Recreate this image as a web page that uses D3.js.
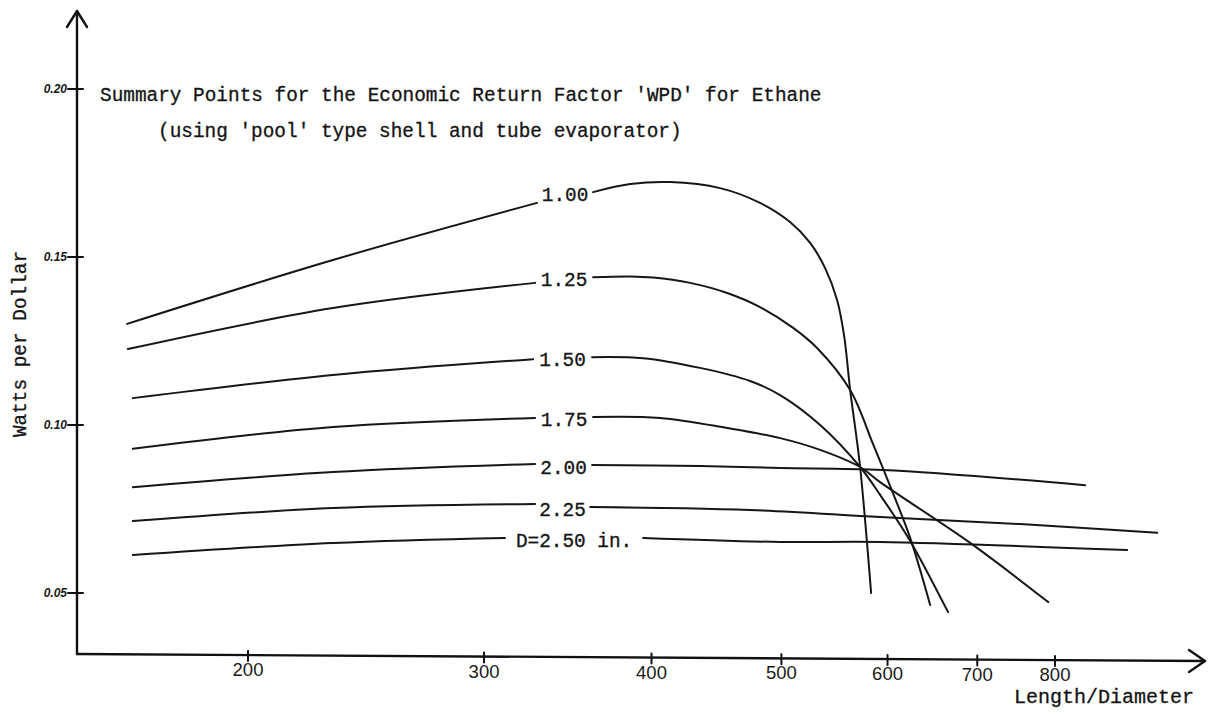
<!DOCTYPE html>
<html>
<head>
<meta charset="utf-8">
<script src="https://cdn.jsdelivr.net/npm/d3@7"></script>
<style>
  body { margin: 0; background: #fff; }
  svg { display: block; }
  .mono { font-family: "Liberation Mono", "DejaVu Sans Mono", monospace; fill: #141414; }
  .hand { font-family: "Liberation Sans", "DejaVu Sans", sans-serif; fill: #1a1a1a; }
</style>
</head>
<body>
<script>
// tick values
const xTicks = [200, 300, 400, 500, 600, 700, 800];
const yTicks = [0.05, 0.10, 0.15, 0.20];
const yTickLabels = ["0.05", "0.10", "0.15", "0.20"];

// one curve per tube diameter, broken where the label sits
const curveLabels = ["1.00", "1.25", "1.50", "1.75", "2.00", "2.25", "D=2.50 in."];

// [L/D, WPD], left of the label
const leftParts = [
    [[162.5, 0.1301], [231.4, 0.1491], [328.6, 0.1661]],
    [[162.7, 0.1226], [231.4, 0.1348], [327.5, 0.1423]],
    [[164.1, 0.1080], [231.4, 0.1149], [326.4, 0.1196]],
    [[164.1, 0.0929], [231.4, 0.0994], [327.5, 0.1021]],
    [[164.1, 0.0815], [231.4, 0.0860], [327.5, 0.0884]],
    [[164.1, 0.0714], [231.4, 0.0753], [327.5, 0.0765]],
    [[164.1, 0.0613], [231.4, 0.0649], [311, 0.0664]]
];

// right of the label
const rightParts = [
    [[361.8, 0.1693], [385.6, 0.1717], [413, 0.1723], [450, 0.1705], [482, 0.1661], [507.5, 0.1604],
     [525.3, 0.1542], [539, 0.1467], [550.2, 0.1372], [556.9, 0.1265], [562.7, 0.1104], [572.4, 0.0875],
     [583.3, 0.0500]],
    [[361.8, 0.1440], [385.6, 0.1442], [401.1, 0.1439], [427.4, 0.1423], [455.5, 0.1393], [482, 0.1351],
     [510.2, 0.1289], [531.6, 0.1229], [562.7, 0.1104], [585.3, 0.0943], [602.7, 0.0818], [623.8, 0.0664],
     [645.6, 0.0464]],
    [[361.2, 0.1202], [394.3, 0.1199], [434.8, 0.1170], [473.8, 0.1131], [498.9, 0.1089], [534.4, 0.1000],
     [572.4, 0.0875], [592.4, 0.0792], [623.8, 0.0655], [665.8, 0.0443]],
    [[361.8, 0.1024], [406, 0.1021], [455.5, 0.0991], [498.9, 0.0961], [534.4, 0.0926], [572.4, 0.0875],
     [592.4, 0.0830], [691.5, 0.0649], [790.7, 0.0473]],
    [[361.2, 0.0881], [434.8, 0.0878], [498.9, 0.0872], [595.5, 0.0866], [842.6, 0.0821]],
    [[360, 0.0756], [473.8, 0.0747], [592.4, 0.0726], [753.5, 0.0705], [953.5, 0.0679]],
    [[394.3, 0.0664], [498.9, 0.0652], [592.4, 0.0652], [905.6, 0.0628]]
];

const titleLines = [
    "Summary Points for the Economic Return Factor 'WPD' for Ethane",
    "(using 'pool' type shell and tube evaporator)"
];

const width = 1209, height = 717;

const x = d3.scaleLog().domain([200, 800]).range([248, 1055]);
const y = d3.scaleLinear().domain([0.05, 0.20]).range([593, 89]);

const axisX0 = 77;               // y axis position
const baseY = px => 654 + (px - axisX0) * 7 / 1128;   // hand drawn x axis tilts a little

const svg = d3.select("body").append("svg")
    .attr("width", width)
    .attr("height", height);

// axes
const axes = svg.append("g").attr("stroke", "#111").attr("stroke-width", 2.4).attr("fill", "none")
    .attr("stroke-linecap", "round").attr("stroke-linejoin", "round");

axes.append("path").attr("d", `M${axisX0},${baseY(axisX0)} V11`);
axes.append("path").attr("d", `M${axisX0 - 10},27 L${axisX0},11 L${axisX0 + 10},27`);
axes.append("path").attr("d", `M${axisX0},${baseY(axisX0)} L1205,${baseY(1205)}`);
axes.append("path").attr("d", `M1189,${baseY(1189) - 11} L1205,${baseY(1205)} L1189,${baseY(1189) + 11}`);

// y ticks
axes.selectAll(".ytick")
    .data(yTicks)
    .enter()
    .append("line")
    .attr("x1", axisX0 - 9)
    .attr("x2", axisX0 + 6)
    .attr("y1", d => y(d))
    .attr("y2", d => y(d))
    .attr("stroke-width", 2);

svg.selectAll(".ylab")
    .data(yTicks)
    .enter()
    .append("text")
    .attr("class", "hand")
    .attr("x", axisX0 - 10)
    .attr("y", d => y(d) + 4)
    .attr("text-anchor", "end")
    .attr("font-size", 12)
    .attr("font-style", "italic")
    .attr("font-weight", "bold")
    .text((d, i) => yTickLabels[i]);

// x ticks
axes.selectAll(".xtick")
    .data(xTicks)
    .enter()
    .append("line")
    .attr("x1", d => x(d))
    .attr("x2", d => x(d))
    .attr("y1", d => baseY(x(d)) - 4)
    .attr("y2", d => baseY(x(d)) + 6)
    .attr("stroke-width", 2);

svg.selectAll(".xlab")
    .data(xTicks)
    .enter()
    .append("text")
    .attr("class", "hand")
    .attr("x", d => x(d))
    .attr("y", d => baseY(x(d)) + 21)
    .attr("text-anchor", "middle")
    .attr("font-size", 18.5)
    .text(d => d);

svg.append("text")
    .attr("class", "mono")
    .attr("x", 1194)
    .attr("y", 703)
    .attr("text-anchor", "end")
    .attr("font-size", 20)
    .attr("stroke", "#141414")
    .attr("stroke-width", 0.3)
    .text("Length/Diameter");

svg.append("text")
    .attr("class", "mono")
    .attr("transform", "translate(26,344) rotate(-90)")
    .attr("text-anchor", "middle")
    .attr("font-size", 19.4)
    .attr("stroke", "#141414")
    .attr("stroke-width", 0.3)
    .text("Watts per Dollar");

// title
svg.selectAll(".title")
    .data(titleLines)
    .enter()
    .append("text")
    .attr("class", "mono")
    .attr("x", (d, i) => i === 0 ? 100 : 158)
    .attr("y", (d, i) => i === 0 ? 101 : 137)
    .attr("font-size", 19.4)
    .attr("stroke", "#141414")
    .attr("stroke-width", 0.3)
    .text(d => d);

// curves
const line = d3.line()
    .x(d => x(d[0]))
    .y(d => y(d[1]))
    .curve(d3.curveCatmullRom.alpha(0.5));

const curves = svg.append("g")
    .attr("fill", "none")
    .attr("stroke", "#161616")
    .attr("stroke-width", 2)
    .attr("stroke-linecap", "round");

curves.selectAll(".left")
    .data(leftParts)
    .enter()
    .append("path")
    .attr("d", line);

curves.selectAll(".right")
    .data(rightParts)
    .enter()
    .append("path")
    .attr("d", line);

// labels in the gaps
svg.selectAll(".clab")
    .data(curveLabels)
    .enter()
    .append("text")
    .attr("class", "mono")
    .attr("x", (d, i) => (x(leftParts[i][leftParts[i].length - 1][0]) + x(rightParts[i][0][0])) / 2)
    .attr("y", (d, i) => y(rightParts[i][0][1]) + 2)
    .attr("dy", "0.36em")
    .attr("text-anchor", "middle")
    .attr("font-size", 19.4)
    .attr("stroke", "#141414")
    .attr("stroke-width", 0.3)
    .text(d => d);
</script>
</body>
</html>
